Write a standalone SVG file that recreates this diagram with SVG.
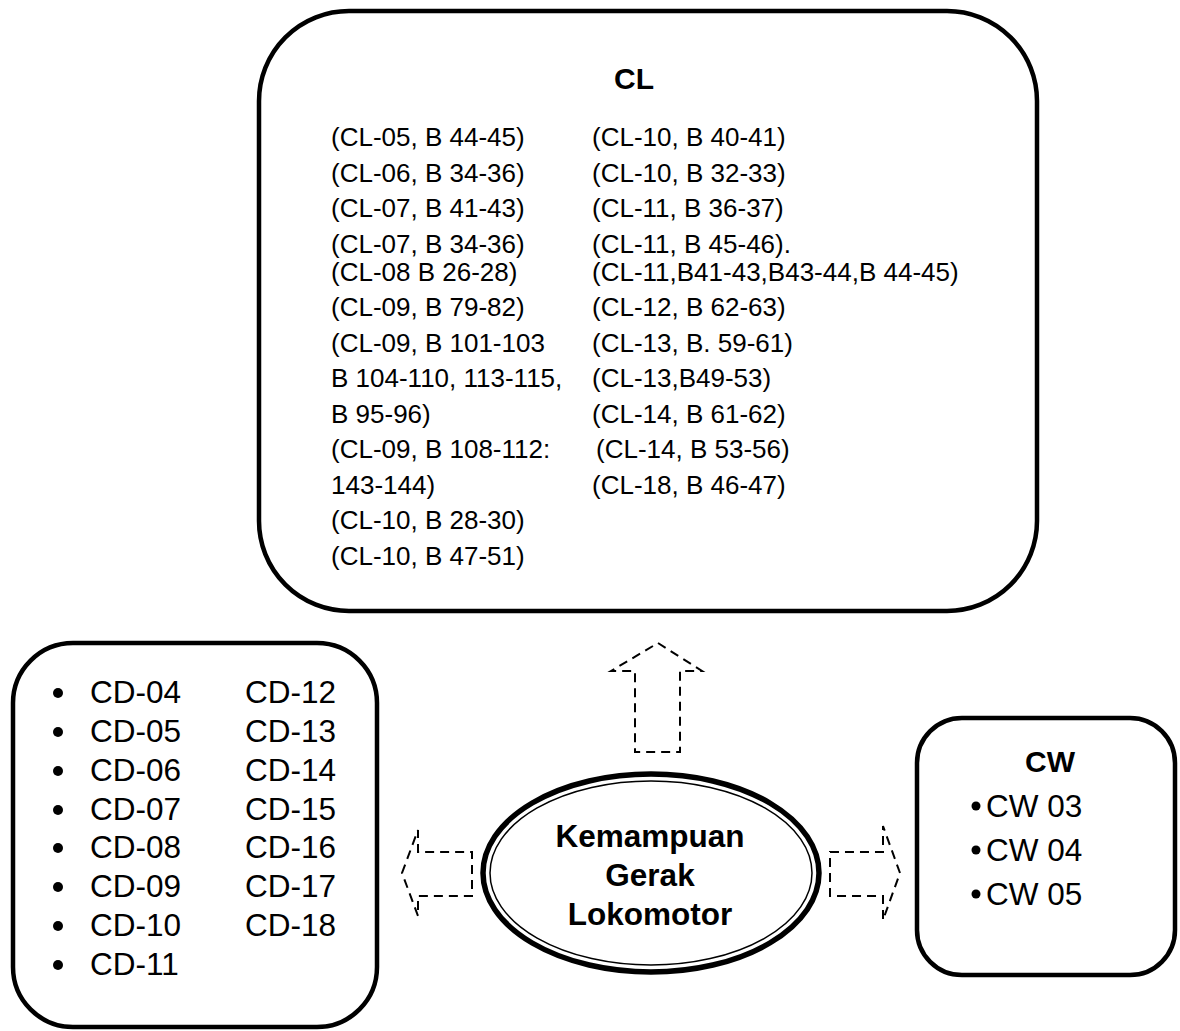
<svg xmlns="http://www.w3.org/2000/svg" width="1180" height="1031" viewBox="0 0 1180 1031">
<style>
.box{fill:#fff;stroke:#000;stroke-width:4.5}
.arr{fill:none;stroke:#000;stroke-width:2;stroke-dasharray:9 6}
.t{font-family:"Liberation Sans",Arial,sans-serif;fill:#000}
.cl{font-size:26px}
.cd{font-size:31.5px}
.b{font-weight:bold}
</style>
<rect width="1180" height="1031" fill="#fff"/>
<g id="connectors">
<polygon class="arr" points="658,643 702,671 680,671 680,752 635,752 635,671 611,671"/>
<polygon class="arr" points="402,873 418,830 418,852 472,852 472,896 418,896 418,916"/>
<polygon class="arr" points="900,873 883,826 883,852 830,852 830,896 883,896 883,920"/>
</g>
<g id="node-cl">
<rect class="box" x="259" y="11" width="778" height="600" rx="90" ry="90"/>
<text class="t b" x="634" y="89" font-size="30" text-anchor="middle">CL</text>
<g class="t cl">
<text x="331" y="146">(CL-05, B 44-45)</text>
<text x="331" y="181.5">(CL-06, B 34-36)</text>
<text x="331" y="217">(CL-07, B 41-43)</text>
<text x="331" y="252.5">(CL-07, B 34-36)</text>
<text x="331" y="280.5">(CL-08 B 26-28)</text>
<text x="331" y="316">(CL-09, B 79-82)</text>
<text x="331" y="351.5">(CL-09, B 101-103</text>
<text x="331" y="387">B 104-110, 113-115,</text>
<text x="331" y="422.5">B 95-96)</text>
<text x="331" y="458">(CL-09, B 108-112:</text>
<text x="331" y="493.5">143-144)</text>
<text x="331" y="529">(CL-10, B 28-30)</text>
<text x="331" y="564.5">(CL-10, B 47-51)</text>
<text x="592" y="146">(CL-10, B 40-41)</text>
<text x="592" y="181.5">(CL-10, B 32-33)</text>
<text x="592" y="217">(CL-11, B 36-37)</text>
<text x="592" y="252.5">(CL-11, B 45-46).</text>
<text x="592" y="280.5">(CL-11,B41-43,B43-44,B 44-45)</text>
<text x="592" y="316">(CL-12, B 62-63)</text>
<text x="592" y="351.5">(CL-13, B. 59-61)</text>
<text x="592" y="387">(CL-13,B49-53)</text>
<text x="592" y="422.5">(CL-14, B 61-62)</text>
<text x="596" y="458">(CL-14, B 53-56)</text>
<text x="592" y="493.5">(CL-18, B 46-47)</text>
</g>
</g>
<g id="node-cd">
<rect class="box" x="13" y="643" width="364" height="384" rx="60" ry="60"/>
<g fill="#000">
<circle cx="58" cy="693" r="5"/>
<circle cx="58" cy="732" r="5"/>
<circle cx="58" cy="771" r="5"/>
<circle cx="58" cy="810" r="5"/>
<circle cx="58" cy="848" r="5"/>
<circle cx="58" cy="887" r="5"/>
<circle cx="58" cy="926" r="5"/>
<circle cx="58" cy="965" r="5"/>
</g>
<g class="t cd">
<text x="90" y="703">CD-04</text>
<text x="90" y="742">CD-05</text>
<text x="90" y="781">CD-06</text>
<text x="90" y="820">CD-07</text>
<text x="90" y="858">CD-08</text>
<text x="90" y="897">CD-09</text>
<text x="90" y="936">CD-10</text>
<text x="90" y="975">CD-11</text>
<text x="245" y="703">CD-12</text>
<text x="245" y="742">CD-13</text>
<text x="245" y="781">CD-14</text>
<text x="245" y="820">CD-15</text>
<text x="245" y="858">CD-16</text>
<text x="245" y="897">CD-17</text>
<text x="245" y="936">CD-18</text>
</g>
</g>
<g id="node-cw">
<rect class="box" x="917" y="718" width="258" height="257" rx="45" ry="45"/>
<text class="t b" x="1050" y="772" font-size="30" text-anchor="middle">CW</text>
<g fill="#000">
<circle cx="976" cy="806" r="4.5"/>
<circle cx="976" cy="850" r="4.5"/>
<circle cx="976" cy="894" r="4.5"/>
</g>
<g class="t cd">
<text x="986" y="817">CW 03</text>
<text x="986" y="861">CW 04</text>
<text x="986" y="905">CW 05</text>
</g>
</g>
<g id="node-center">
<ellipse cx="651" cy="873" rx="168" ry="99" fill="#fff" stroke="#000" stroke-width="5.5"/>
<ellipse cx="651" cy="873" rx="161" ry="92" fill="none" stroke="#000" stroke-width="1.5"/>
<g class="t b" font-size="31.5" text-anchor="middle">
<text x="650" y="847">Kemampuan</text>
<text x="650" y="886">Gerak</text>
<text x="650" y="925">Lokomotor</text>
</g>
</g>
</svg>
